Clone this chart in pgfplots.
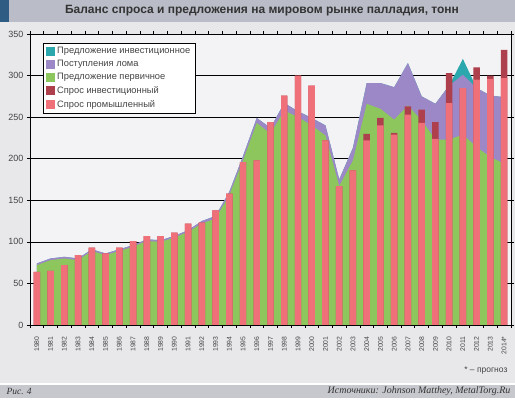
\documentclass[border=0pt]{standalone}
\usepackage{pgfplots}
\pgfplotsset{compat=1.18}
\usepackage{pgfplotstable}
\usepackage{fontspec}
\setmainfont{Liberation Sans}
\newfontfamily\seriffont{Liberation Serif}
\definecolor{cteal}{HTML}{2AA8AE}
\definecolor{cpurple}{HTML}{9C88C6}
\definecolor{cgreen}{HTML}{8DC65C}
\definecolor{cdred}{HTML}{AE3F4D}
\definecolor{cpink}{HTML}{F07079}
\definecolor{plotbg}{HTML}{F3F3F5}
\definecolor{outbg}{HTML}{E8E8EB}
\definecolor{headbg}{HTML}{BABDC8}
\definecolor{tabc}{HTML}{2E5C82}
\definecolor{footbg}{HTML}{C7C8CE}
\definecolor{txt}{HTML}{444444}
\pgfplotstableread{
x G P T I D
0 72 74 74 64 64
1 78 80 80 65 65
2 80 82 82 72 72
3 78 80 80 84 84
4 89 91 91 93 93
5 84 86 86 86 86
6 89 91 91 93 93
7 94 96 96 101 101
8 101 103 103 107 107
9 100 102 102 107 107
10 105 107 107 111 111
11 112 114 114 122 122
12 122 125 125 123 123
13 128 131 131 138 138
14 156 160 160 158 158
15 198 203 203 196 196
16 243 249 249 198 198
17 230 237 237 244 244
18 258 267 267 276 276
19 250 257 257 300 300
20 240 249 249 288 288
21 228 240 240 222 222
22 167 175 175 167 167
23 198 213 213 186 186
24 266 291 291 222 230
25 260 291 291 240 249
26 247 286 286 229 231
27 264 315 315 253 263
28 246 275 275 243 259
29 223 266 266 224 244
30 223 288 288 267 303
31 229 301 320 285 285
32 214 285 285 295 310
33 202 276 276 296 300
34 194 274 274 297 331
}\data
\begin{document}
\begin{tikzpicture}
% picture frame: left=-36.871pt, bottom=-73pt, right=478.129pt, top=325pt
\fill[outbg] (-36.871pt,-73pt) rectangle (478.129pt,325pt);
\fill[headbg] (-36.871pt,303pt) rectangle (478.129pt,325pt);
\fill[tabc] (-36.871pt,303pt) rectangle (-27.871pt,325pt);
\fill[white] (-36.871pt,-60pt) rectangle (478.129pt,-58pt);
\fill[footbg] (-36.871pt,-73pt) rectangle (478.129pt,-60pt);
\node[font=\bfseries\fontsize{12}{14}\selectfont, text=black!80] at (225.129pt,314pt) {Баланс спроса и предложения на мировом рынке палладия, тонн};
\node[anchor=west, font=\seriffont\itshape\fontsize{9.5}{10}\selectfont, text=black!80] at (-33.871pt,-66.5pt) {Рис. 4};
\node[anchor=east, font=\seriffont\itshape\fontsize{10}{11}\selectfont, text=black!80] at (477.129pt,-66.5pt) {Источники: Johnson Matthey, MetalTorg.Ru};
\node[anchor=east, font=\fontsize{8.5}{9}\selectfont, text=txt] at (474.129pt,-45pt) {* -- прогноз};
\begin{axis}[
  at={(0pt,0pt)}, anchor=origin,
  width=481pt, height=291pt, scale only axis,
  xmin=-0.5, xmax=34.5, ymin=0, ymax=350,
  axis background/.style={fill=plotbg},
  ytick={0,50,...,350},
  ymajorgrids, major grid style={black, line width=0.6pt},
  xtick={0,...,34},
  xticklabels={1980,1981,1982,1983,1984,1985,1986,1987,1988,1989,1990,1991,1992,1993,1994,1995,1996,1997,1998,1999,2000,2001,2002,2003,2004,2005,2006,2007,2008,2009,2010,2011,2012,2013,2014*},
  minor xtick={-0.5,0.5,...,34.5},
  every major x tick/.append style={draw=none},
  tick align=outside, major tick length=3pt, minor tick length=3pt,
  tick style={black, line width=0.6pt},
  axis line style={black, line width=0.6pt},
  xticklabel shift=5pt,
  xticklabel style={rotate=90, anchor=east, font=\fontsize{6.8}{8}\selectfont, text=txt},
  yticklabel style={font=\fontsize{9}{10}\selectfont, text=txt},
  /pgf/number format/assume math mode=true,
  legend style={at={(rel axis cs:0.027,0.969)}, anchor=north west, draw=black, fill=white,
    font=\fontsize{9.3}{11}\selectfont, text=txt, inner xsep=3pt, inner ysep=1.5pt,
    nodes={inner ysep=2.6pt}},
  legend cell align=left,
  legend image code/.code={\fill[#1] (0pt,-4.5pt) rectangle (9pt,4.5pt);},
]
\addplot[fill=cteal, draw=none, forget plot] table[x=x, y=T] {\data} \closedcycle;
\addplot[fill=cpurple, draw=none, forget plot] table[x=x, y=P] {\data} \closedcycle;
\addplot[fill=cgreen, draw=none, forget plot] table[x=x, y=G] {\data} \closedcycle;
\addplot[ybar, bar width=0.47, bar shift=0pt, fill=cdred, draw=none, forget plot] table[x=x, y=D] {\data};
\addplot[ybar, bar width=0.47, bar shift=0pt, fill=cpink, draw=none, forget plot] table[x=x, y=I] {\data};
\addlegendimage{fill=cteal, draw=none}
\addlegendentry{Предложение инвестиционное}
\addlegendimage{fill=cpurple, draw=none}
\addlegendentry{Поступления лома}
\addlegendimage{fill=cgreen, draw=none}
\addlegendentry{Предложение первичное}
\addlegendimage{fill=cdred, draw=none}
\addlegendentry{Спрос инвестиционный}
\addlegendimage{fill=cpink, draw=none}
\addlegendentry{Спрос промышленный}
\end{axis}
\end{tikzpicture}
\end{document}
